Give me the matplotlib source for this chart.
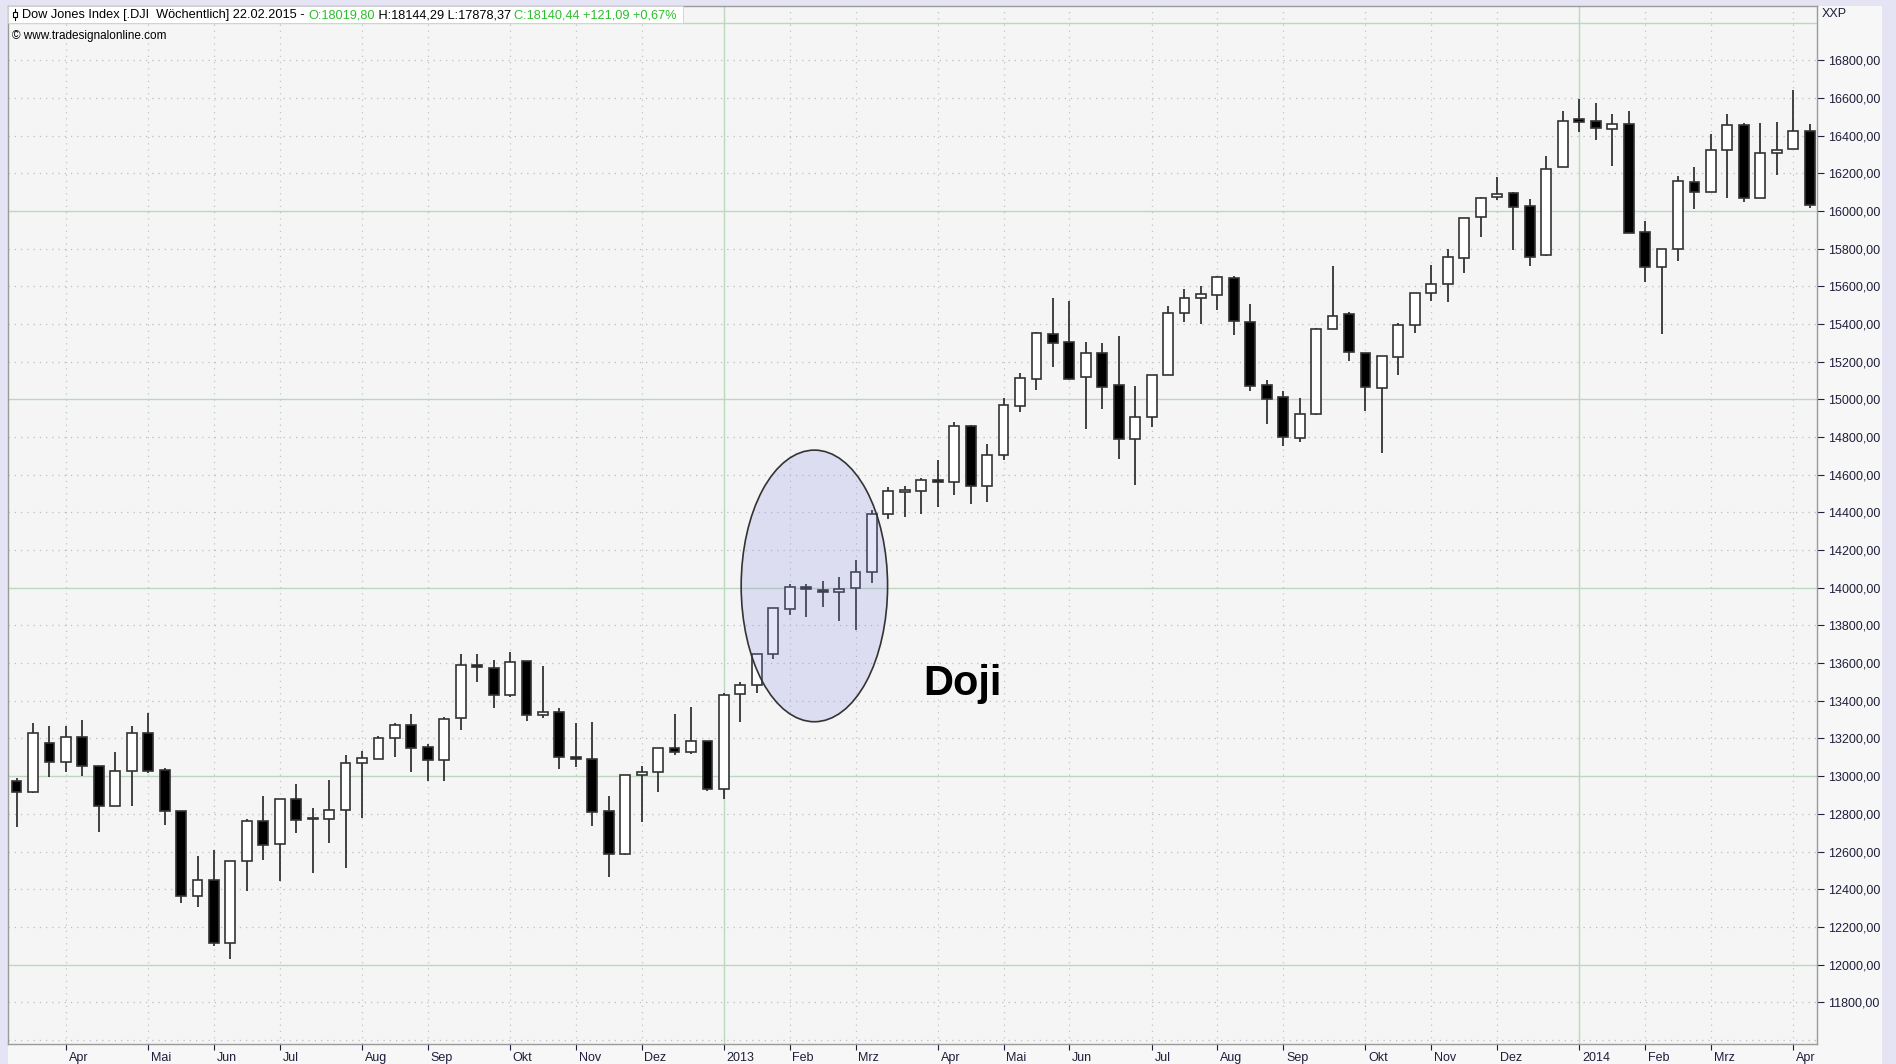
import numpy as np
import matplotlib.pyplot as plt
from matplotlib.patches import Rectangle, Ellipse
import matplotlib.transforms as mtransforms

plt.rcParams['font.family'] = ['Liberation Sans', 'DejaVu Sans']

# --- weekly DJI candles (Mar 2012 .. Apr 2014) ---
opens = [12976, 12918, 13178, 13075, 13210, 13052, 12842, 13028, 13228, 13033,
         12815, 12366, 12451, 12116, 12550, 12764, 12638, 12877, 12773, 12774,
         12819, 13070, 13093, 13201, 13272, 13153, 13086, 13307, 13585, 13573,
         13431, 13610, 13325, 13341, 13104, 13090, 12815, 12585, 13006, 13024,
         13152, 13130, 13189, 12930, 13436, 13484, 13647, 13889, 14001, 13990,
         13978, 13997, 14083, 14390, 14510, 14514, 14572, 14562, 14861, 14541,
         14705, 14967, 15107, 15346, 15303, 15117, 15245, 15077, 14790, 14907,
         15130, 15457, 15539, 15553, 15647, 15413, 15077, 15015, 14797, 14923,
         15374, 15452, 15245, 15063, 15224, 15394, 15563, 15613, 15749, 15968,
         16074, 16094, 16025, 15767, 16232, 16488, 16481, 16437, 16464, 15888,
         15703, 15798, 16156, 16104, 16325, 16458, 16069, 16307, 16331, 16423]
highs = [12990, 13284, 13266, 13266, 13298, 13052, 13130, 13266, 13334, 13045,
         12815, 12578, 12606, 12552, 12771, 12897, 12877, 12958, 12829, 12980,
         13114, 13134, 13215, 13281, 13328, 13171, 13316, 13647, 13647, 13617,
         13661, 13610, 13585, 13364, 13284, 13290, 12897, 13008, 13056, 13152,
         13328, 13366, 13189, 13444, 13498, 13650, 13891, 14020, 14019, 14036,
         14056, 14148, 14413, 14537, 14541, 14581, 14679, 14882, 14865, 14764,
         15006, 15139, 15360, 15540, 15523, 15303, 15298, 15339, 15071, 15132,
         15496, 15585, 15604, 15655, 15655, 15505, 15103, 15047, 15010, 15378,
         15710, 15466, 15245, 15231, 15408, 15563, 15714, 15800, 15965, 16074,
         16180, 16104, 16062, 16295, 16534, 16596, 16573, 16515, 16529, 15950,
         15800, 16184, 16232, 16409, 16515, 16467, 16467, 16472, 16641, 16465]
lows = [12732, 12910, 12997, 13024, 13003, 12706, 12840, 12842, 13019, 12741,
        12329, 12304, 12100, 12028, 12390, 12555, 12445, 12697, 12484, 12644,
        12514, 12776, 13090, 13104, 13024, 12976, 12976, 13245, 13502, 13364,
        13419, 13295, 13307, 13036, 13050, 12736, 12467, 12580, 12759, 12918,
        13113, 13118, 12923, 12879, 13286, 13440, 13620, 13856, 13843, 13900,
        13826, 13776, 14028, 14364, 14378, 14390, 14427, 14491, 14443, 14456,
        14679, 14935, 15050, 15174, 15105, 14841, 14948, 14684, 14546, 14856,
        15130, 15410, 15399, 15475, 15342, 15047, 14870, 14753, 14773, 14920,
        15374, 15206, 14941, 14714, 15128, 15355, 15523, 15516, 15670, 15865,
        16060, 15795, 15710, 15760, 16232, 16418, 16379, 16241, 15885, 15621,
        15347, 15736, 16010, 16104, 16072, 16048, 16069, 16193, 16331, 16016]
closes = [12918, 13228, 13075, 13206, 13054, 12842, 13028, 13228, 13029, 12817,
          12366, 12451, 12113, 12552, 12764, 12635, 12877, 12767, 12770, 12820,
          13070, 13095, 13201, 13272, 13150, 13086, 13302, 13590, 13580, 13431,
          13608, 13325, 13339, 13100, 13090, 12812, 12585, 13008, 13020, 13152,
          13130, 13189, 12930, 13433, 13482, 13647, 13891, 14004, 13992, 13978,
          13996, 14086, 14392, 14512, 14514, 14572, 14562, 14861, 14541, 14705,
          14969, 15112, 15351, 15298, 15110, 15245, 15066, 14790, 14907, 15132,
          15457, 15539, 15558, 15652, 15417, 15072, 15004, 14803, 14921, 15372,
          15445, 15254, 15068, 15231, 15395, 15563, 15615, 15758, 15964, 16069,
          16092, 16023, 15759, 16225, 16481, 16474, 16442, 16464, 15885, 15703,
          15800, 16161, 16104, 16325, 16458, 16067, 16306, 16327, 16423, 16030]

month_labels = ['Apr', 'Mai', 'Jun', 'Jul', 'Aug', 'Sep', 'Okt', 'Nov', 'Dez', '2013',
                'Feb', 'Mrz', 'Apr', 'Mai', 'Jun', 'Jul', 'Aug', 'Sep', 'Okt', 'Nov',
                'Dez', '2014', 'Feb', 'Mrz', 'Apr']
month_weeks = [3, 8, 12, 16, 21, 25, 30, 34, 38, 43, 47, 51, 56, 60, 64, 69, 73, 77,
               82, 86, 90, 95, 99, 103, 108]
year_weeks = [43, 95]
price_ticks = np.arange(11800, 16801, 200)
grid_levels = np.arange(11600, 17001, 200)

# doji highlight
doji_center = (48.5, 14010)
doji_size = (8.9, 1442)

W, H = 1896, 1064
fig = plt.figure(figsize=(W / 100, H / 100), dpi=100, facecolor='#e4e4f4')
fig.patches.append(Rectangle((8 / W, 0), (1882 - 8) / W, (H - 6) / H, transform=fig.transFigure,
                             facecolor='#f7f7f7', edgecolor='none', zorder=-5))

ax = fig.add_axes([8 / W, 20 / H, 1809 / W, 1038 / H])
ax.set_zorder(1)
ax.set_facecolor('#f5f5f5')
ax.set_xlim(-0.52, 109.45)
ax.set_ylim(11578, 17089)

# --- grid ---
for p in grid_levels:
    if p % 1000 == 0:
        ax.axhline(p, color='#bcd8bc', lw=1.0, zorder=1)
    else:
        ax.axhline(p, color='#bdbdbd', lw=0.9, ls=(0, (1, 4)), zorder=1)
for w in month_weeks:
    if w in year_weeks:
        ax.axvline(w, color='#bcd8bc', lw=1.0, zorder=1)
    else:
        ax.axvline(w, color='#bcc8bc', lw=0.9, ls=(0, (1, 4)), zorder=1)

# --- candles ---
for i in range(len(opens)):
    o, h, l, c = opens[i], highs[i], lows[i], closes[i]
    ax.vlines(i, l, h, color='#222222', lw=1.2, zorder=2)
    up = c > o
    bottom = min(o, c)
    height = max(abs(c - o), 10)
    ax.add_patch(Rectangle((i - 0.3, bottom), 0.6, height,
                           facecolor='white' if up else 'black',
                           edgecolor='#333333', lw=1.2, zorder=3))

# --- doji annotation ---
ax.add_patch(Ellipse(doji_center, doji_size[0], doji_size[1],
                     facecolor=(0.55, 0.55, 0.9, 0.22), edgecolor='#333333', lw=1.2, zorder=4))
ax.text(55.1, 13431, 'Doji', fontsize=30, fontweight='bold', va='baseline', ha='left',
        color='black', zorder=5)

# --- axes / ticks ---
ax.yaxis.tick_right()
ax.set_yticks(price_ticks, [f'{p},00' for p in price_ticks])
ax.tick_params(axis='y', length=5, width=0.8, colors='#1e1e3c', labelsize=9, pad=3)
ax.set_xticks(month_weeks, month_labels)
ax.tick_params(axis='x', length=4, width=0.8, colors='#1e1e3c', labelsize=9, pad=2)
offset = mtransforms.ScaledTranslation(2 / 72, 0, fig.dpi_scale_trans)
for lab in ax.get_xticklabels():
    lab.set_horizontalalignment('left')
    lab.set_transform(lab.get_transform() + offset)
for s in ax.spines.values():
    s.set_color('#9a9a9a')
    s.set_linewidth(1.0)

fig.text(1822 / W, 1 - 14 / H, 'XXP', fontsize=9, va='center', ha='left', color='#1e1e3c')

# --- header box ---
fig.patches.append(Rectangle((8 / W, 1 - 23 / H), (683 - 8) / W, 17 / H, transform=fig.transFigure,
                             facecolor='white', edgecolor='#d0d0d0', lw=0.6, zorder=5))
# small candle icon
fig.add_artist(plt.Line2D([15 / W, 15 / W], [1 - 20 / H, 1 - 9 / H], transform=fig.transFigure,
                          color='black', lw=0.8, zorder=6))
fig.patches.append(Rectangle((13 / W, 1 - 17 / H), 4 / W, 5 / H, transform=fig.transFigure,
                             facecolor='white', edgecolor='black', lw=0.8, zorder=6))
segments = [('Dow Jones Index [.DJI  Wöchentlich] 22.02.2015 - ', 'black'),
            ('O:18019,80', '#2cbf2c'),
            (' H:18144,29 L:17878,37 ', 'black'),
            ('C:18140,44 +121,09 +0,67%', '#2cbf2c')]
prev = fig.text(22 / W, 1 - 15 / H, segments[0][0], fontsize=9.2, color=segments[0][1],
                va='center', ha='left', zorder=7)
for txt, col in segments[1:]:
    prev = fig.add_artist(plt.Annotation(txt, xy=(1, 0), xycoords=prev, va='bottom', ha='left',
                                         fontsize=9.2, color=col, zorder=7))

fig.text(12 / W, 1 - 36 / H, '\u00a9 www.tradesignalonline.com', fontsize=8.5, va='center',
         ha='left', color='black', zorder=7)

fig.savefig('out.png', dpi=100, facecolor=fig.get_facecolor())
